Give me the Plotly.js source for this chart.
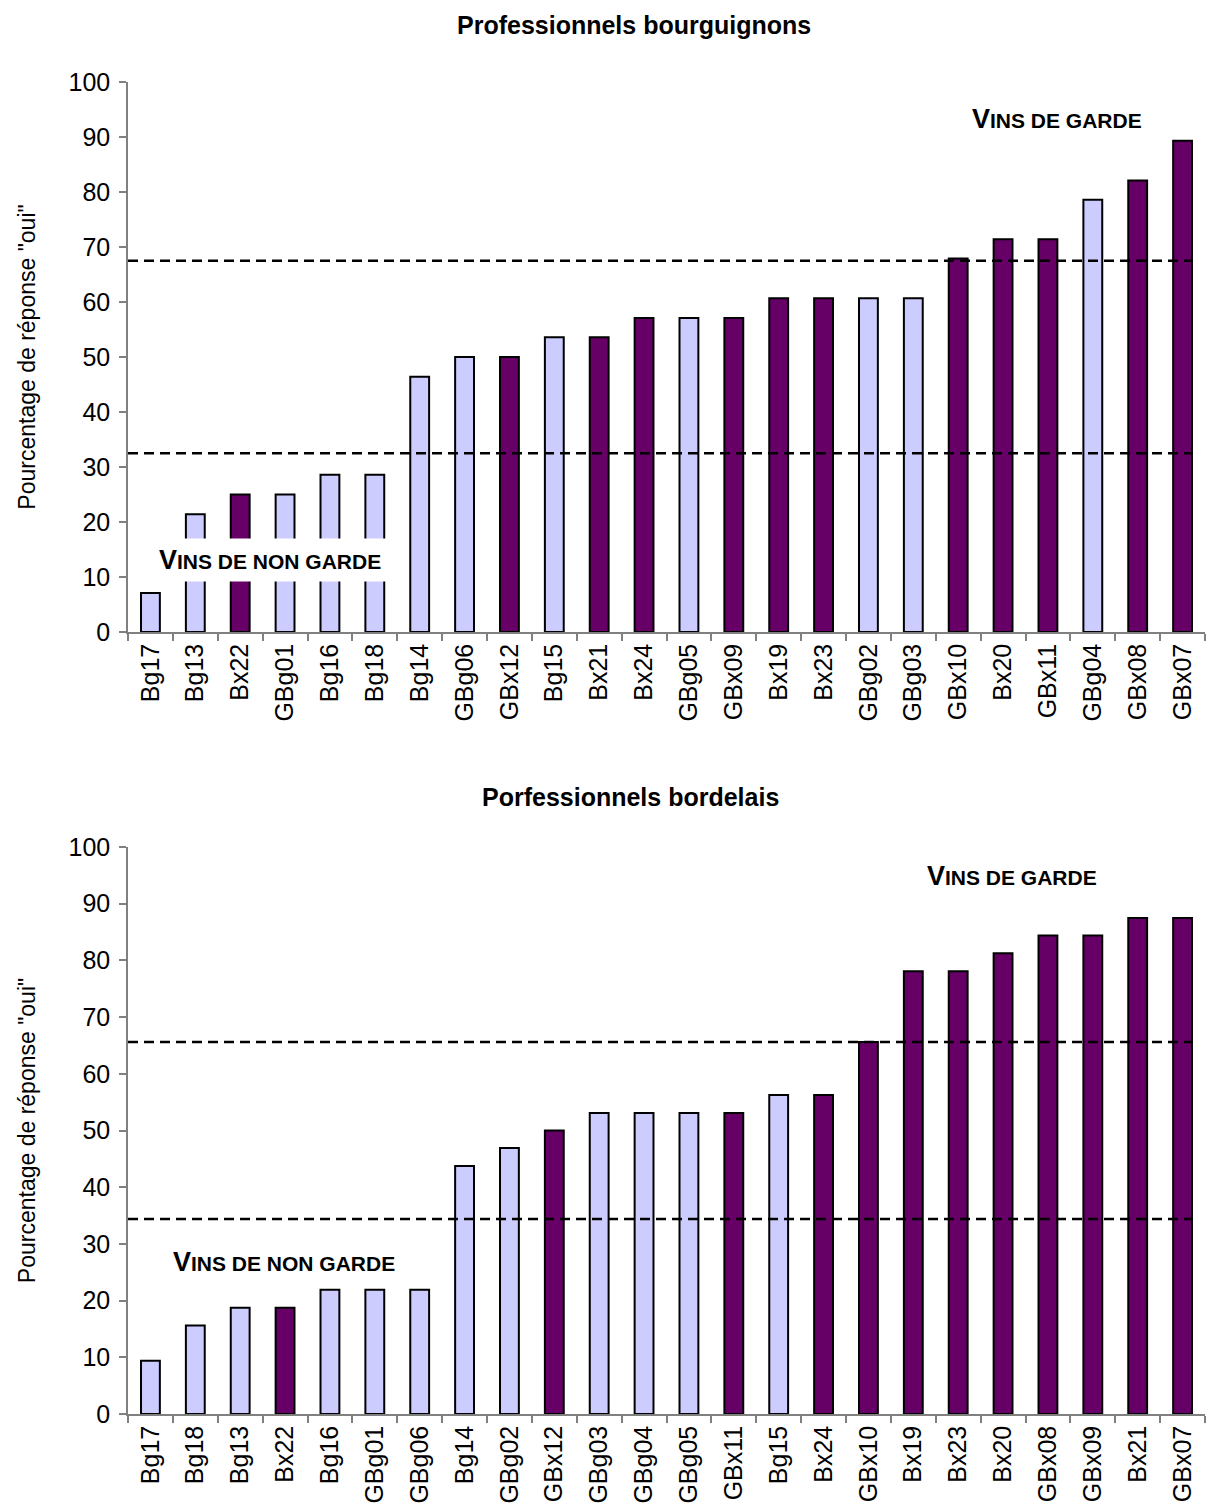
<!DOCTYPE html>
<html><head><meta charset="utf-8">
<script src="https://cdn.plot.ly/plotly-3.0.1.min.js"></script>
<style>html,body{margin:0;padding:0;background:#fff}</style>
</head><body>
<div id="chart" style="width:1206px;height:1510px"></div>
<script>
// Top chart: Professionnels bourguignons
const catsTop = ["Bg17","Bg13","Bx22","GBg01","Bg16","Bg18","Bg14","GBg06","GBx12","Bg15","Bx21","Bx24","GBg05","GBx09","Bx19","Bx23","GBg02","GBg03","GBx10","Bx20","GBx11","GBg04","GBx08","GBx07"];
const valsTop = [7.1,21.4,25,25,28.6,28.6,46.4,50,50,53.6,53.6,57.1,57.1,57.1,60.7,60.7,60.7,60.7,67.9,71.4,71.4,78.6,82.1,89.3];
const thresholdsTop = [32.5, 67.5];

// Bottom chart: Porfessionnels bordelais
const catsBot = ["Bg17","Bg18","Bg13","Bx22","Bg16","GBg01","GBg06","Bg14","GBg02","GBx12","GBg03","GBg04","GBg05","GBx11","Bg15","Bx24","GBx10","Bx19","Bx23","Bx20","GBx08","GBx09","Bx21","GBx07"];
const valsBot = [9.4,15.6,18.75,18.75,21.9,21.9,21.9,43.75,46.9,50,53.1,53.1,53.1,53.1,56.25,56.25,65.6,78.1,78.1,81.25,84.4,84.4,87.5,87.5];
const thresholdsBot = [34.4, 65.6];

const titles = ["Professionnels bourguignons", "Porfessionnels bordelais"];
const yTitle = 'Pourcentage de réponse "oui"';

const LIGHT = "#CCCCFF", DARK = "#660066";
const colorFor = c => (/^G?Bx/.test(c) ? DARK : LIGHT);

const font = "Liberation Sans, Arial, sans-serif";

function barTrace(cats, vals, xa, ya) {
  return {
    type: "bar", x: cats, y: vals, xaxis: xa, yaxis: ya,
    width: 0.42,
    marker: { color: cats.map(colorFor), line: { color: "#000", width: 2 } },
    hoverinfo: "x+y", showlegend: false
  };
}

const xAxisCommon = {
  type: "category", tickson: "boundaries", ticks: "outside", ticklen: 7, tickwidth: 1.5,
  tickcolor: "#808080", showline: true, linecolor: "#808080", linewidth: 1.5,
  tickangle: -90, tickfont: { family: font, size: 25, color: "#000" },
  showgrid: false, zeroline: false, fixedrange: true
};
const yAxisCommon = {
  range: [0, 100], dtick: 10, ticks: "outside", ticklen: 7, tickwidth: 1.5, tickcolor: "#808080",
  showline: true, linecolor: "#808080", linewidth: 1.5, showgrid: false, zeroline: false,
  tickfont: { family: font, size: 25, color: "#000" }, ticklabelstandoff: 4,
  title: { text: yTitle, font: { family: font, size: 23, color: "#000" }, standoff: 26 },
  fixedrange: true
};

const xDom = [128/1206, 1205/1206];
const layout = {
  width: 1206, height: 1510,
  margin: { l: 0, r: 0, t: 0, b: 0 },
  paper_bgcolor: "#fff", plot_bgcolor: "#fff",
  xaxis: Object.assign({}, xAxisCommon, { domain: xDom, anchor: "y" }),
  yaxis: Object.assign({}, yAxisCommon, { domain: [1 - 632/1510, 1 - 82/1510], anchor: "x" }),
  xaxis2: Object.assign({}, xAxisCommon, { domain: xDom, anchor: "y2" }),
  yaxis2: Object.assign({}, yAxisCommon, { domain: [1 - 1414/1510, 1 - 847/1510], anchor: "x2" }),
  shapes: [],
  annotations: []
};

function dashed(val, xr, yr) {
  return { type: "line", xref: xr + " domain", yref: yr, x0: 0, x1: 0.988, y0: val, y1: val,
           line: { color: "#000", width: 2.4, dash: "10px,6px" }, layer: "above" };
}
thresholdsTop.forEach(v => layout.shapes.push(dashed(v, "x", "y")));
thresholdsBot.forEach(v => layout.shapes.push(dashed(v, "x2", "y2")));

const sc = (big, rest) => `<b><span style="font-size:27px">${big}</span>${rest}</b>`;
const nonGarde = sc("V", "INS DE NON GARDE");
const garde = sc("V", "INS DE GARDE");

layout.annotations.push(
  { xref: "paper", yref: "paper", x: 634/1206, y: 1 - 25/1510, text: "<b>" + titles[0] + "</b>", showarrow: false,
    font: { family: font, size: 25, color: "#000" }, xanchor: "center", yanchor: "middle" },
  { xref: "paper", yref: "paper", x: 630/1206, y: 1 - 797/1510, text: "<b>" + titles[1] + "</b>", showarrow: false,
    font: { family: font, size: 25, color: "#000" }, xanchor: "center", yanchor: "middle" },
  { xref: "x", yref: "y", x: 2.66, y: 13.1, text: nonGarde, showarrow: false, bgcolor: "#fff",
    font: { family: font, size: 21, color: "#000" }, borderpad: 6 },
  { xref: "x", yref: "y", x: 20.2, y: 93.3, text: garde, showarrow: false,
    font: { family: font, size: 21, color: "#000" } },
  { xref: "x2", yref: "y2", x: 2.97, y: 26.8, text: nonGarde, showarrow: false,
    font: { family: font, size: 21, color: "#000" } },
  { xref: "x2", yref: "y2", x: 19.2, y: 94.9, text: garde, showarrow: false,
    font: { family: font, size: 21, color: "#000" } }
);

Plotly.newPlot("chart", [barTrace(catsTop, valsTop, "x", "y"), barTrace(catsBot, valsBot, "x2", "y2")], layout,
  { displayModeBar: false });
</script>
</body></html>
